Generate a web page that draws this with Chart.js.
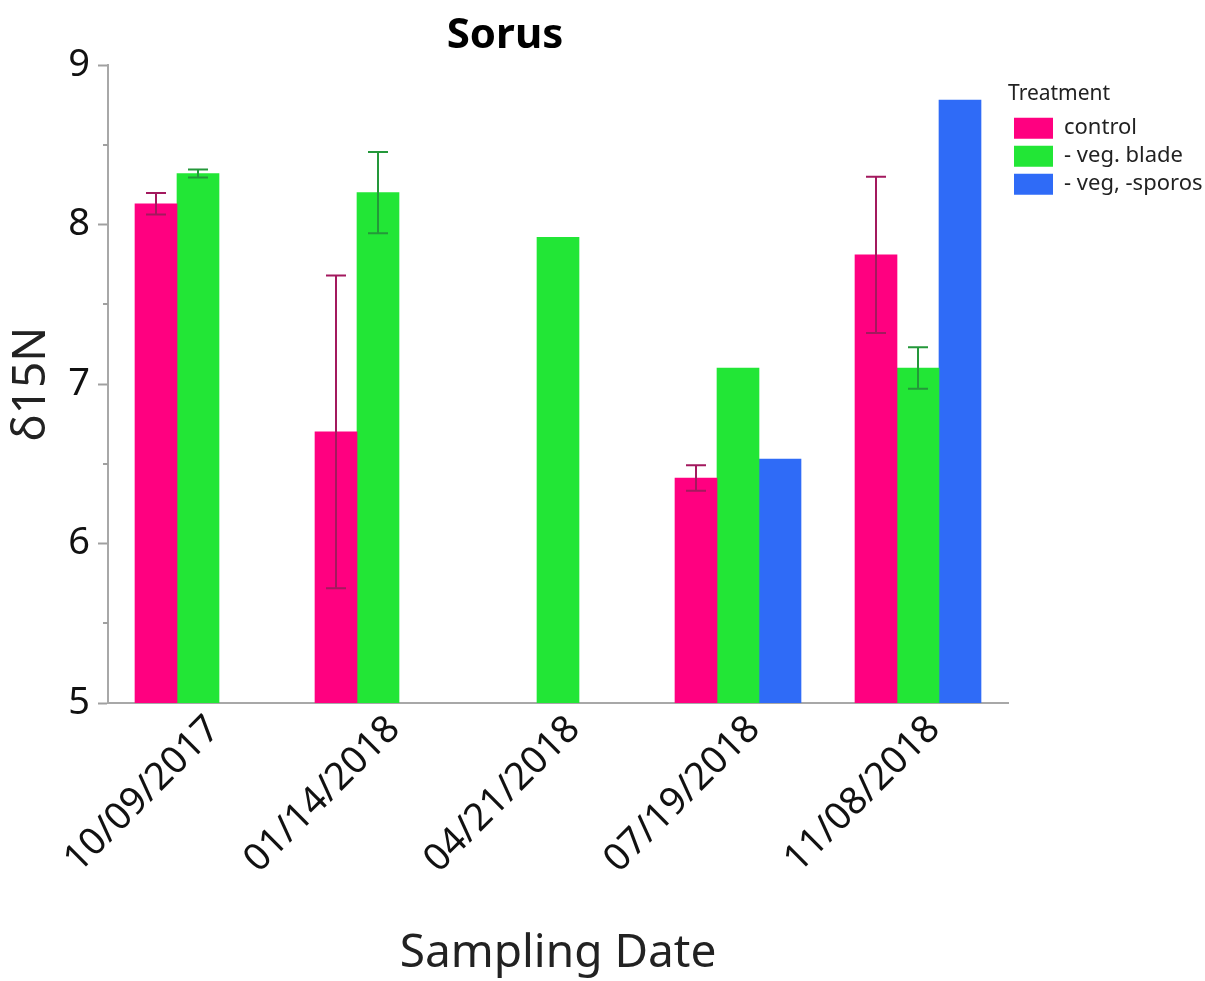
<!DOCTYPE html>
<html>
<head>
<meta charset="utf-8">
<script src="https://cdn.jsdelivr.net/npm/chart.js@4/dist/chart.umd.min.js"></script>
<style>
  html, body { margin: 0; padding: 0; background: #fff; }
  #wrap { width: 1205px; height: 981px; position: relative; }
</style>
</head>
<body>
<div id="wrap"><canvas id="chart"></canvas></div>
<script>
const categories = ["10/09/2017", "01/14/2018", "04/21/2018", "07/19/2018", "11/08/2018"];
const control = [8.13, 6.70, null, 6.41, 7.81];
const vegBlade = [8.32, 8.20, 7.92, 7.10, 7.10];
const vegSporos = [null, null, null, 6.53, 8.78];
// half-width of each error bar
const controlErr = [0.067, 0.98, null, 0.08, 0.49];
const vegBladeErr = [0.025, 0.255, null, null, 0.13];
const vegSporosErr = [null, null, null, null, null];
const yTicks = [5, 6, 7, 8, 9];
const yMinorTicks = [5.5, 6.5, 7.5, 8.5];

const FONT = "'Noto Sans', 'Open Sans', sans-serif";
Chart.defaults.font.family = FONT;
Chart.defaults.color = "#222";

const errorBars = {
  id: "errorBars",
  afterDatasetsDraw(chart) {
    const ctx = chart.ctx;
    const y = chart.scales.y;
    chart.data.datasets.forEach((ds, i) => {
      const meta = chart.getDatasetMeta(i);
      meta.data.forEach((bar, j) => {
        const v = ds.data[j];
        const e = ds.errors[j];
        if (v == null || e == null) return;
        const top = y.getPixelForValue(v + e);
        const bottom = y.getPixelForValue(v - e);
        ctx.save();
        ctx.strokeStyle = ds.errorColor;
        ctx.lineWidth = 2;
        ctx.beginPath();
        ctx.moveTo(bar.x, top);
        ctx.lineTo(bar.x, bottom);
        ctx.moveTo(bar.x - 10, top);
        ctx.lineTo(bar.x + 10, top);
        ctx.moveTo(bar.x - 10, bottom);
        ctx.lineTo(bar.x + 10, bottom);
        ctx.stroke();
        ctx.restore();
      });
    });
  },
};

// short minor ticks on the y axis plus the chart title
const extras = {
  id: "extras",
  afterDraw(chart) {
    const ctx = chart.ctx;
    const y = chart.scales.y;
    const left = chart.chartArea.left;
    ctx.save();
    ctx.strokeStyle = "#a0a0a0";
    ctx.lineWidth = 2;
    yMinorTicks.forEach((t) => {
      const py = Math.round(y.getPixelForValue(t));
      ctx.beginPath();
      ctx.moveTo(left - 5, py);
      ctx.lineTo(left, py);
      ctx.stroke();
    });
    ctx.fillStyle = "#000";
    ctx.font = "bold 42px " + FONT;
    ctx.textAlign = "center";
    ctx.textBaseline = "middle";
    ctx.fillText("Sorus", 505, 36);
    ctx.restore();
  },
};

new Chart(document.getElementById("chart"), {
  type: "bar",
  data: {
    labels: categories,
    datasets: [
      { label: "control", data: control, errors: controlErr, backgroundColor: "#ff0080", errorColor: "#a3195e" },
      { label: "- veg. blade", data: vegBlade, errors: vegBladeErr, backgroundColor: "#22e636", errorColor: "#24983a" },
      { label: "- veg, -sporos", data: vegSporos, errors: vegSporosErr, backgroundColor: "#2f6bf7", errorColor: "#1d45a0" },
    ],
  },
  options: {
    responsive: true,
    maintainAspectRatio: false,
    animation: false,
    layout: { padding: { top: 65, left: 0, right: 0, bottom: 0 } },
    datasets: { bar: { barThickness: 42, borderWidth: 0 } },
    plugins: {
      tooltip: { enabled: false },
      legend: {
        position: "right",
        align: "start",
        maxWidth: 197,
        title: { display: true, text: "Treatment", position: "start", font: { size: 21 }, color: "#222", padding: { top: 19, bottom: 2 } },
        labels: { boxWidth: 39, boxHeight: 21, padding: 6, font: { size: 22 }, color: "#222" },
      },
    },
    scales: {
      x: {
        afterFit: (scale) => { scale.height = 278; },
        grid: { display: false, drawTicks: false },
        border: { color: "#a8a8a8", width: 2 },
        ticks: { font: { size: 38 }, color: "#111", minRotation: 45, maxRotation: 45, padding: 4, labelOffset: 16 },
        title: { display: true, text: "Sampling Date", font: { size: 46 }, color: "#222", padding: { top: 0, bottom: 0 } },
      },
      y: {
        min: 5,
        max: 9,
        afterFit: (scale) => { scale.width = 108; },
        afterBuildTicks: (scale) => { scale.ticks = yTicks.map((v) => ({ value: v })); },
        grid: { drawOnChartArea: false, drawTicks: true, tickLength: 10, tickWidth: 2, tickColor: "#a0a0a0" },
        border: { color: "#a8a8a8", width: 2 },
        ticks: { font: { size: 38 }, color: "#111", padding: 8 },
        title: { display: true, text: "δ15N", font: { size: 46 }, color: "#222", padding: { top: 4, bottom: 0 } },
      },
    },
  },
  plugins: [errorBars, extras],
});
</script>
</body>
</html>
